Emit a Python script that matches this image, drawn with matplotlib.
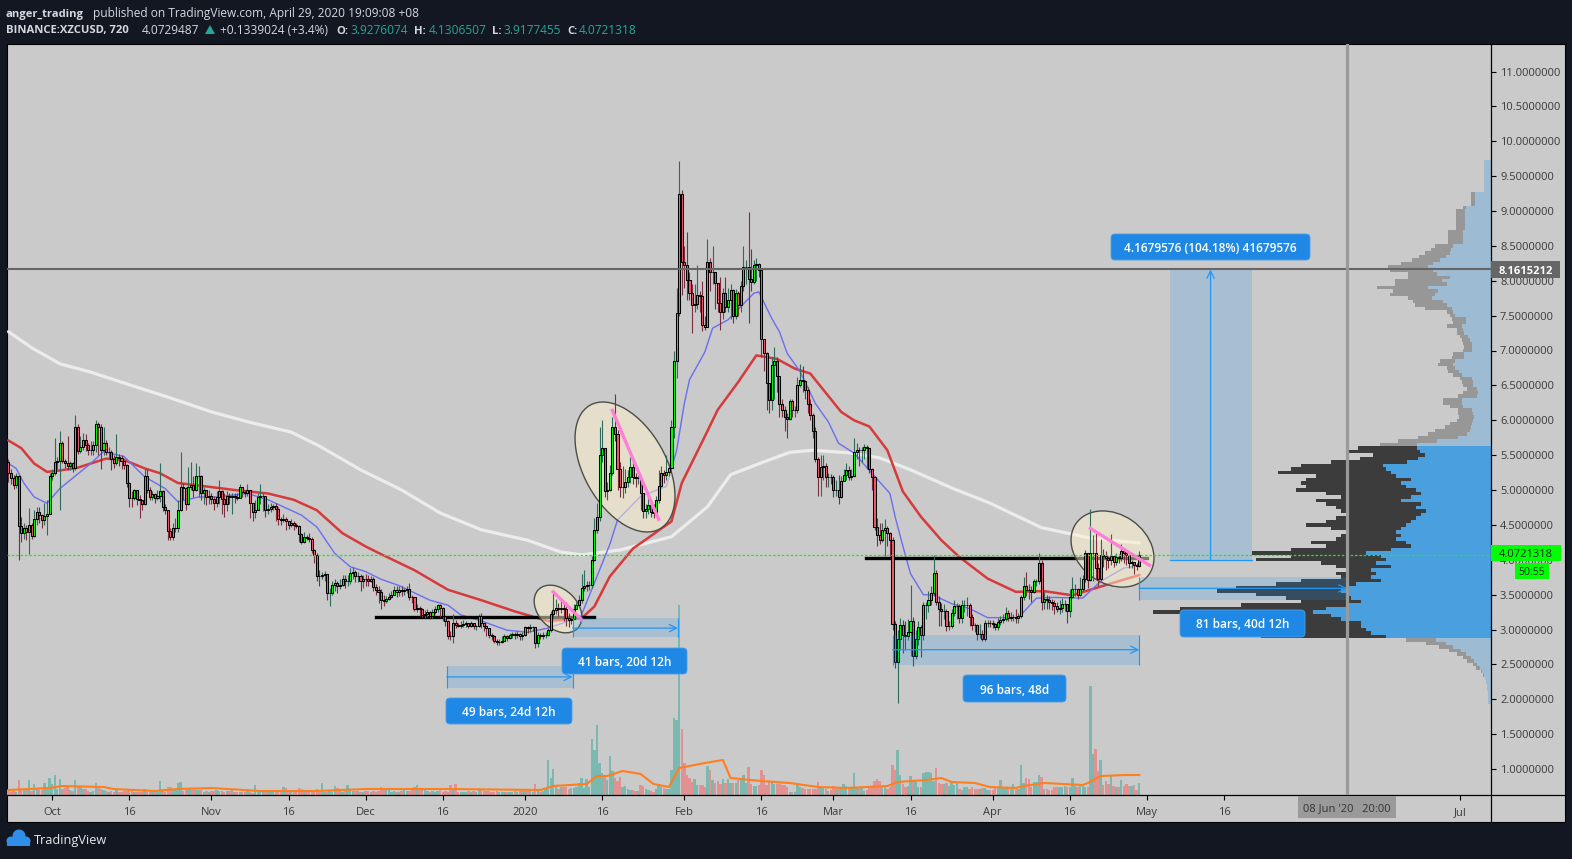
#!/usr/bin/env python
import numpy as np
import matplotlib
matplotlib.use('Agg')
import matplotlib.pyplot as plt
from matplotlib.patches import Ellipse, Rectangle, FancyBboxPatch, Polygon, Circle
from matplotlib.transforms import Affine2D

plt.rcParams['font.family'] = ['Open Sans', 'DejaVu Sans']

W, H = 1572, 859
first_day = -100.5  # days from 1 Jan 2020, 12h bars
first_open = 5.40

close = [
 5.24,5.17,5.07,5.20,4.48,4.38,4.46,4.40,4.50,4.34,4.59,4.69,4.64,4.57,4.63,4.65,5.20,5.24,5.40,5.41,
 5.68,5.42,5.39,5.35,5.38,5.31,5.90,5.56,5.62,5.71,5.64,5.57,5.58,5.64,5.95,5.90,5.58,5.68,5.55,5.55,
 5.45,5.38,5.47,5.46,5.42,5.36,5.10,4.89,4.88,5.00,4.87,4.85,4.80,5.20,5.00,4.90,4.94,4.89,4.91,4.99,
 4.76,4.72,4.41,4.32,4.45,4.46,4.72,5.04,5.03,4.80,5.04,5.07,5.00,5.20,5.20,4.96,5.00,4.90,4.91,4.87,
 4.82,4.90,4.98,4.87,4.80,4.92,4.90,4.92,4.90,4.89,5.04,4.97,4.96,5.00,4.81,4.69,4.72,4.90,4.92,4.92,
 4.71,4.73,4.75,4.77,4.73,4.59,4.57,4.59,4.55,4.50,4.53,4.50,4.49,4.37,4.25,4.33,4.31,4.30,4.14,4.07,
 3.77,3.76,3.78,3.80,3.53,3.53,3.64,3.66,3.63,3.64,3.72,3.69,3.69,3.81,3.83,3.76,3.76,3.70,3.73,3.72,
 3.70,3.73,3.61,3.56,3.54,3.42,3.41,3.44,3.46,3.50,3.57,3.54,3.57,3.55,3.56,3.58,3.47,3.46,3.30,3.31,
 3.30,3.21,3.22,3.25,3.19,3.25,3.30,3.35,3.31,3.19,3.12,2.91,2.90,3.10,3.06,3.05,3.06,3.08,3.09,3.05,
 3.09,3.05,3.05,3.19,3.10,3.05,3.02,2.92,2.90,2.83,2.82,2.82,2.84,2.90,2.88,2.92,2.93,2.92,2.94,2.91,
 2.92,3.03,3.02,3.03,3.03,2.80,2.92,2.91,2.92,2.92,2.99,3.22,3.28,3.31,3.30,3.31,3.30,3.16,3.14,3.15,
 3.30,3.35,3.42,3.60,3.63,3.64,3.64,4.00,4.43,4.62,5.50,5.60,4.99,5.00,5.24,5.91,5.81,5.30,5.05,5.05,
 5.11,5.18,5.33,5.19,5.17,5.17,4.95,4.70,4.73,4.78,4.69,4.67,4.86,5.06,5.24,5.21,5.26,5.32,5.90,6.85,
 7.54,9.24,8.27,8.22,8.01,7.83,7.65,7.66,7.80,7.78,7.37,7.34,8.27,8.12,8.12,7.97,7.68,7.55,7.83,7.62,
 7.72,7.87,7.50,7.82,7.65,7.92,8.20,8.20,8.03,7.98,8.23,8.24,8.15,7.17,6.96,6.53,6.29,6.79,6.85,6.63,
 6.24,6.14,6.05,6.02,6.28,6.14,6.14,6.51,6.57,6.56,6.44,6.23,6.07,5.84,5.44,5.18,5.33,5.34,5.18,5.19,
 5.18,5.00,5.00,4.90,5.13,5.21,5.29,5.18,5.20,5.55,5.58,5.57,5.58,5.61,5.60,5.30,5.18,4.47,4.35,4.29,
 4.43,4.46,4.38,4.28,3.08,2.54,2.87,3.07,2.92,2.90,2.97,3.12,2.62,2.87,3.03,2.92,3.35,3.35,3.42,3.53,
 3.81,3.40,3.30,3.27,3.27,3.05,3.05,3.23,3.33,3.33,3.16,3.35,3.35,3.35,3.18,3.07,3.06,2.94,2.94,2.86,
 3.09,3.10,3.09,3.08,3.04,3.11,3.13,3.15,3.23,3.16,3.18,3.18,3.17,3.19,3.47,3.63,3.57,3.56,3.54,3.69,
 3.70,3.96,3.40,3.44,3.43,3.40,3.38,3.33,3.30,3.31,3.37,3.37,3.27,3.46,3.58,3.58,3.50,3.58,3.72,4.09,
 3.71,4.09,4.09,3.88,3.73,4.07,4.06,4.02,3.99,4.05,3.97,4.04,4.03,4.13,4.09,4.07,3.96,3.97,3.92,3.91,4.07]

high = [
 5.45,5.30,5.22,5.25,5.22,4.62,4.52,4.50,4.74,4.52,4.72,4.75,4.75,4.65,4.82,4.85,5.25,5.30,5.75,5.48,
 5.85,5.70,5.45,5.78,5.42,5.40,6.08,5.95,5.78,5.82,5.80,5.68,5.70,5.70,6.00,5.98,5.95,5.90,5.72,5.62,
 5.58,5.50,5.81,5.52,5.50,5.42,5.37,5.12,4.98,5.02,5.00,4.93,4.85,5.30,5.30,5.05,4.98,4.95,5.00,5.38,
 5.00,4.80,4.72,4.45,4.52,4.60,4.85,5.55,5.10,5.05,5.33,5.40,5.20,5.38,5.34,5.22,5.05,4.95,5.00,4.95,
 4.92,4.98,5.14,5.00,4.95,4.98,4.96,4.96,4.95,4.95,5.08,5.05,5.00,5.08,4.92,4.81,4.85,4.95,5.08,4.96,
 4.85,4.80,4.82,4.80,4.82,4.75,4.62,4.66,4.62,4.55,4.58,4.56,4.52,4.50,4.38,4.40,4.36,4.38,4.32,4.16,
 4.10,3.85,3.82,3.84,3.80,3.60,3.70,3.72,3.70,3.72,3.78,3.78,3.78,3.88,3.90,3.85,3.82,3.80,3.78,3.80,
 3.78,3.76,3.75,3.65,3.62,3.58,3.50,3.48,3.52,3.55,3.62,3.62,3.62,3.62,3.60,3.62,3.66,3.50,3.46,3.36,
 3.34,3.31,3.28,3.30,3.26,3.30,3.34,3.36,3.37,3.32,3.18,3.14,2.98,3.22,3.14,3.09,3.12,3.14,3.12,3.10,
 3.12,3.10,3.07,3.22,3.24,3.10,3.06,3.00,2.95,2.92,2.86,2.87,2.90,2.93,2.92,2.95,2.97,2.96,2.98,2.95,
 2.97,3.05,3.05,3.08,3.05,3.04,2.96,2.95,2.96,2.96,3.02,3.26,3.52,3.44,3.38,3.42,3.36,3.40,3.24,3.20,
 3.36,3.40,3.50,3.80,3.86,3.70,3.70,4.05,4.60,4.82,5.90,6.00,5.60,5.12,5.36,6.05,6.38,5.86,5.40,5.34,
 5.30,5.28,5.48,5.40,5.25,5.22,5.12,4.96,4.80,4.88,4.86,4.80,4.92,5.28,5.35,5.28,5.50,5.36,6.00,7.00,
 7.90,9.72,9.30,8.50,8.70,8.12,7.95,7.95,8.22,7.85,8.00,7.50,8.60,8.32,8.50,8.05,7.85,8.05,7.90,8.06,
 7.90,7.95,7.88,7.88,7.85,8.00,8.50,8.30,8.99,8.45,8.30,8.32,8.25,8.18,7.08,6.98,6.50,6.90,7.05,6.90,
 6.62,6.30,6.20,6.10,6.30,6.30,6.20,6.62,6.80,6.78,6.58,6.48,6.30,6.10,5.90,5.48,5.50,5.50,5.38,5.25,
 5.23,5.22,5.14,5.22,5.20,5.30,5.38,5.35,5.30,5.75,5.68,5.62,5.62,5.66,5.65,5.52,5.32,5.20,4.60,4.52,
 4.52,4.58,4.48,4.40,4.33,3.12,3.00,3.16,3.14,3.12,3.15,3.64,3.18,3.00,3.12,3.06,3.40,3.40,3.55,3.62,
 4.07,3.85,3.48,3.38,3.36,3.30,3.12,3.30,3.42,3.38,3.36,3.42,3.42,3.47,3.38,3.22,3.10,3.08,3.08,3.00,
 3.13,3.14,3.13,3.13,3.10,3.16,3.20,3.22,3.32,3.28,3.25,3.22,3.30,3.23,3.50,3.75,3.82,3.65,3.62,3.72,
 3.73,4.10,4.00,3.55,3.50,3.48,3.44,3.42,3.40,3.42,3.45,3.42,3.35,3.58,3.75,3.65,3.60,3.75,3.78,4.14,
 4.10,4.73,4.35,4.38,3.95,4.30,4.15,4.12,4.06,4.37,4.03,4.10,4.08,4.22,4.14,4.12,4.06,4.00,3.96,3.96,4.13]

low = [
 5.12,5.08,5.02,5.03,3.99,4.25,4.30,4.28,4.08,4.30,4.33,4.50,4.52,4.46,4.50,4.35,4.65,5.15,5.22,5.30,
 4.71,5.38,5.32,5.28,5.28,5.26,5.28,5.52,5.53,5.58,5.56,5.50,5.50,5.50,5.55,5.50,5.30,5.50,5.50,5.45,
 5.28,5.32,5.36,5.34,5.30,5.30,5.05,4.75,4.76,4.85,4.78,4.60,4.72,4.78,4.95,4.85,4.85,4.82,4.85,4.83,
 4.70,4.65,4.28,4.28,4.28,4.40,4.40,4.70,4.85,4.72,4.78,5.00,4.90,4.98,4.90,4.85,4.80,4.78,4.80,4.80,
 4.72,4.76,4.80,4.65,4.62,4.70,4.80,4.65,4.82,4.85,4.88,4.90,4.90,4.92,4.60,4.55,4.60,4.72,4.80,4.70,
 4.62,4.66,4.68,4.72,4.55,4.50,4.50,4.54,4.42,4.44,4.47,4.42,4.46,4.25,4.22,4.24,4.28,4.25,4.10,3.95,
 3.70,3.62,3.72,3.70,3.43,3.33,3.50,3.55,3.52,3.58,3.62,3.60,3.62,3.65,3.72,3.68,3.68,3.55,3.60,3.62,
 3.62,3.68,3.55,3.50,3.38,3.30,3.33,3.38,3.42,3.45,3.50,3.46,3.48,3.48,3.50,3.52,3.42,3.38,3.26,3.25,
 3.20,3.18,3.16,3.18,3.15,3.17,3.22,3.25,3.18,3.12,3.05,2.86,2.85,2.80,3.02,3.03,3.02,3.04,3.04,3.02,
 3.04,3.01,3.00,3.04,3.02,2.98,2.90,2.88,2.85,2.80,2.78,2.78,2.80,2.84,2.84,2.86,2.88,2.87,2.88,2.85,
 2.85,2.90,2.95,2.97,2.98,2.74,2.75,2.86,2.86,2.88,2.90,2.97,3.15,3.22,3.20,3.24,3.12,3.05,3.04,3.08,
 3.20,3.30,3.32,3.38,3.55,3.55,3.56,3.60,3.98,4.38,4.55,5.40,4.90,4.85,4.98,5.22,5.70,5.00,4.90,4.88,
 4.95,5.05,5.10,5.08,5.05,5.08,4.72,4.60,4.60,4.66,4.62,4.60,4.65,4.82,5.05,5.10,5.15,5.20,5.30,5.75,
 6.60,7.50,7.80,7.90,7.72,7.72,7.25,7.55,7.60,7.55,7.28,7.30,7.35,7.85,7.95,7.60,7.55,7.30,7.45,7.55,
 7.55,7.45,7.40,7.45,7.50,7.55,7.85,7.95,7.40,7.85,7.95,8.00,8.05,6.90,6.70,6.15,6.10,6.15,6.30,6.40,
 6.05,6.05,5.85,5.75,6.00,6.05,6.05,6.10,6.48,6.40,6.30,6.10,6.00,5.75,5.40,4.92,4.92,5.15,5.05,5.05,
 5.08,4.90,4.92,4.80,4.88,5.14,5.15,5.15,5.14,5.18,5.45,5.35,5.40,5.45,5.30,5.25,5.00,4.42,4.20,4.22,
 4.25,4.05,4.20,4.05,3.00,2.45,1.94,2.72,2.66,2.70,2.85,2.62,2.48,2.58,2.78,2.60,2.85,3.15,3.25,3.35,
 3.50,3.35,3.05,3.05,3.15,2.98,3.00,3.02,3.20,3.15,3.10,3.10,3.25,3.20,3.05,3.00,2.96,2.85,2.88,2.83,
 2.84,3.04,3.03,3.02,2.99,3.00,3.06,3.09,3.12,3.12,3.12,3.12,3.10,3.10,3.17,3.42,3.48,3.44,3.40,3.52,
 3.62,3.65,3.28,3.30,3.30,3.30,3.28,3.22,3.25,3.22,3.25,3.27,3.10,3.18,3.45,3.48,3.44,3.48,3.55,3.68,
 3.60,3.70,3.70,3.72,3.62,3.70,3.90,3.85,3.88,3.92,3.90,3.92,3.95,3.98,3.95,3.92,3.88,3.88,3.80,3.85,3.90]

volume = [
 5,3,4,3,15,5,5,6,15,4,11,6,5,5,12,6,17,11,20,6,
 16,6,7,8,5,4,15,9,8,6,6,4,3,4,12,7,6,5,4,3,
 4,3,6,3,3,4,4,6,4,3,3,3,3,6,3,3,4,3,3,14,
 6,3,8,8,5,5,12,13,4,5,7,5,5,5,5,5,3,4,3,4,
 4,5,4,4,3,4,4,6,3,3,3,3,3,4,3,2,10,4,3,4,
 3,3,4,5,3,4,3,8,7,3,4,3,3,7,6,4,3,3,3,3,
 6,5,12,3,3,4,3,9,7,4,3,4,10,6,4,4,4,3,3,4,
 4,3,4,3,4,8,5,7,6,3,4,3,3,4,5,4,4,6,8,10,
 5,6,5,4,3,4,3,4,5,3,4,3,10,7,11,3,3,3,3,4,
 3,4,3,7,5,4,4,4,3,3,4,3,3,3,3,3,3,4,3,4,
 4,4,4,4,3,11,4,3,4,7,35,17,26,8,6,8,8,8,6,7,
 7,8,12,17,7,16,8,56,45,70,32,22,18,15,39,24,17,14,18,8,
 9,6,5,5,4,4,10,9,6,5,4,3,6,11,8,7,6,6,25,77,
 75,190,66,32,20,17,13,16,10,10,10,8,29,25,15,12,14,11,16,12,
 16,12,12,12,15,15,20,12,28,11,9,9,10,25,20,10,13,13,11,11,
 11,10,10,8,3,3,3,10,8,7,6,6,6,6,6,13,8,7,6,4,
 5,9,6,8,8,11,9,8,8,22,8,8,8,4,5,8,8,14,16,14,
 8,8,6,8,30,25,45,20,11,8,9,19,13,13,8,8,22,23,23,22,
 14,27,12,11,11,12,9,14,10,12,6,5,8,8,6,8,6,6,6,7,
 7,5,5,5,7,8,15,8,8,8,8,11,6,6,30,12,17,16,8,13,
 13,20,18,6,6,5,5,8,8,8,8,9,8,8,17,9,8,9,9,8,
 8,109,41,46,24,35,10,14,11,19,9,8,8,15,9,11,9,9,10,5,12]

# moving averages, read at these bar numbers
ma200_bar = [0,9,20,32,47,63,79,94,110,121,137,153,168,184,202,215,223,238,258,272,281,293,304,313,328,339,351,367,382,402,421,440]
ma200 = [7.27,7.04,6.81,6.69,6.51,6.32,6.12,5.97,5.83,5.63,5.29,5.00,4.67,4.43,4.28,4.11,4.07,4.14,4.33,4.76,5.22,5.39,5.54,5.57,5.53,5.46,5.29,5.03,4.81,4.46,4.31,4.24]
ma50_bar = [0,5,10,15,20,27,32,38,45,53,59,66,75,88,101,111,120,130,139,145,158,171,184,197,210,223,228,234,243,258,262,271,276,284,291,299,306,312,324,329,335,342,348,355,363,370,381,392,403,414,421,429,440]
ma50 = [5.71,5.60,5.38,5.26,5.28,5.32,5.38,5.45,5.43,5.31,5.24,5.10,5.06,5.00,4.95,4.86,4.71,4.38,4.19,4.08,3.85,3.57,3.42,3.26,3.12,3.16,3.33,3.76,4.16,4.55,5.10,5.77,6.15,6.55,6.93,6.88,6.74,6.67,6.12,6.00,5.91,5.57,4.98,4.62,4.28,4.04,3.73,3.54,3.55,3.49,3.57,3.66,3.78]
ma20_bar = [0,3,6,10,15,20,25,32,37,45,53,61,66,74,81,93,101,114,120,127,133,139,145,152,164,171,176,185,194,202,210,217,223,229,234,237,246,256,260,263,265,271,274,280,290,292,297,300,303,308,314,319,323,329,343,345,348,351,356,360,367,374,381,393,400,407,418,425,434,440]
ma20 = [5.38,5.31,5.10,4.90,4.81,5.02,5.17,5.38,5.55,5.48,5.19,5.02,4.83,4.90,4.90,4.95,4.86,4.64,4.47,4.09,3.90,3.83,3.72,3.63,3.42,3.35,3.21,3.11,2.99,2.96,3.02,3.11,3.21,3.76,4.22,4.57,4.91,5.05,5.57,6.24,6.58,6.98,7.32,7.44,7.82,7.84,7.46,7.27,6.96,6.70,6.24,5.98,5.67,5.53,4.95,4.62,4.20,3.80,3.50,3.49,3.37,3.30,3.17,3.17,3.45,3.46,3.45,3.69,3.88,3.92]
vol_ma_bar = [0,16,21,37,41,57,66,79,98,120,139,172,207,212,225,229,233,239,246,251,257,261,271,278,281,293,304,315,326,342,346,357,363,367,376,382,392,395,403,418,420,425,435,440]
vol_ma = [5,7,9,8,6,4,6,7,4,4,6,6,5,9,11,19,19,24,21,11,8,27,32,35,17,14,12,8,7,9,13,15,17,13,12,8,7,9,12,10,12,19,20,20]

# fixed range volume profile: one row per price, width of up part and whole row
vp_price = [9.70,9.65,9.60,9.55,9.50,9.45,9.40,9.35,9.30,9.25,9.20,9.15,9.10,9.05,9.00,8.95,8.90,8.85,8.80,8.75,
 8.70,8.65,8.60,8.55,8.50,8.45,8.40,8.35,8.30,8.25,8.20,8.15,8.10,8.05,8.00,7.95,7.90,7.85,7.80,7.75,
 7.70,7.65,7.60,7.55,7.50,7.45,7.40,7.35,7.30,7.25,7.20,7.15,7.10,7.05,7.00,6.95,6.90,6.85,6.80,6.75,
 6.70,6.65,6.60,6.55,6.50,6.45,6.40,6.35,6.30,6.25,6.20,6.15,6.10,6.05,6.00,5.95,5.90,5.85,5.80,5.75,
 5.70,5.65,5.60,5.55,5.50,5.45,5.40,5.35,5.30,5.25,5.20,5.15,5.10,5.05,5.00,4.95,4.90,4.85,4.80,4.75,
 4.70,4.65,4.60,4.55,4.50,4.45,4.40,4.35,4.30,4.25,4.20,4.15,4.10,4.05,4.00,3.95,3.90,3.85,3.80,3.75,
 3.70,3.65,3.60,3.55,3.50,3.45,3.40,3.35,3.30,3.25,3.20,3.15,3.10,3.05,3.00,2.95,2.90,2.85,2.80,2.75,
 2.70,2.65,2.60,2.55,2.50,2.45,2.40,2.35,2.30,2.25,2.20,2.15,2.10,2.05,2.00,1.95]
vp_up = [7,7,7,7,7,7,7,7,7,16,16,16,16,25,26,26,26,26,26,26,
 28,28,28,28,38,40,41,45,51,58,63,58,54,41,49,44,63,53,56,59,
 48,44,39,38,36,25,25,29,28,27,23,21,19,19,19,27,27,36,38,36,
 32,29,19,18,18,14,13,14,29,29,28,19,18,17,18,19,20,21,24,33,
 54,74,74,71,66,73,84,108,105,100,95,80,90,85,75,70,80,90,70,75,
 65,70,75,80,85,90,95,90,95,85,80,100,125,110,105,115,100,120,115,120,
 110,135,145,150,145,140,130,145,165,178,160,150,130,130,125,120,105,55,45,38,
 30,25,20,17,14,11,9,7,6,5,4,4,3,3,3,3]
vp_total = [7,7,7,7,7,7,7,7,7,20,20,20,20,28,35,35,35,35,35,35,
 43,43,43,43,56,60,66,72,79,90,103,101,83,83,96,96,114,98,101,83,
 78,76,66,44,41,39,38,44,34,34,31,29,28,27,28,38,39,51,53,44,
 43,38,31,29,28,24,28,33,48,48,41,33,33,32,34,41,46,56,63,73,
 93,111,133,143,118,131,160,190,200,213,175,185,190,185,195,165,150,175,165,155,
 150,145,155,165,185,160,145,150,155,180,165,200,239,200,235,170,155,145,155,150,
 190,215,255,274,235,205,190,250,311,338,290,250,220,250,250,240,230,85,65,52,
 42,34,28,24,18,15,10,8,6,5,4,4,3,3,3,3]

price_ticks = [1.0,1.5,2.0,2.5,3.0,3.5,4.0,4.5,5.0,5.5,6.0,6.5,7.0,7.5,8.0,8.5,9.0,9.5,10.0,10.5,11.0]
time_ticks = [-92,-77,-61,-46,-31,-16,0,15,31,46,60,75,91,106,121,136,159.83,182]
time_labels = ['Oct','16','Nov','16','Dec','16','2020','16','Feb','16','Mar','16','Apr','16','May','16','','Jul']

BG = '#cacaca'
DARK = '#131722'
BLUE = '#2196f3'
LABEL = '#1f88e5'
TXT = '#3a3a3a'

def bar_day(i):
    return first_day + 0.5 * np.asarray(i, dtype=float)

# y-down pixel coordinates, for the drawn-on tools and labels
pix = Affine2D().scale(1, -1).translate(0, H)

fig = plt.figure(figsize=(W / 100, H / 100), dpi=100, facecolor=DARK)
fig.add_artist(Rectangle((7, 44), 1558, 778, facecolor=BG, edgecolor='black', lw=0.8, transform=pix, zorder=-5))

pos = [7 / W, 1 - 795 / H, (1491 - 7) / W, (795 - 44) / H]
ymin, ymax = 1 - 26 / 69.75, 1 + 725 / 69.75
xmin, xmax = (7 - 525) / 5.14, (1491 - 525) / 5.14

# volume profile at the back
ax_vp = fig.add_axes(pos, zorder=1, frameon=False)
ax_vp.set_xlim(1484, 0)
ax_vp.set_ylim(ymin, ymax)
ax_vp.axis('off')
vp_p = np.array(vp_price)
vp_u = np.array(vp_up)
vp_t = np.array(vp_total)
inside = (vp_p <= 5.6) & (vp_p >= 2.9)
ax_vp.barh(vp_p, vp_u, height=0.05, color=np.where(inside, '#4aa0de', '#9dbbd2').tolist(), linewidth=0)
ax_vp.barh(vp_p, vp_t - vp_u, left=vp_u, height=0.05, color=np.where(inside, '#3c3c3c', '#979797').tolist(), linewidth=0)

# volume
days = bar_day(np.arange(len(close)))
opens = np.array([first_open] + close[:-1])
closes = np.array(close)
up = closes >= opens

ax_vol = fig.add_axes(pos, zorder=2, frameon=False)
ax_vol.set_xlim(xmin, xmax)
ax_vol.set_ylim(0, 751)
ax_vol.axis('off')
ax_vol.bar(days, volume, width=0.46, color=np.where(up, '#7ab8b0', '#e09292').tolist(), linewidth=0)
ax_vol.plot(bar_day(vol_ma_bar), vol_ma, color='#ff7f1e', lw=1.5, solid_joinstyle='round')

# price pane
ax = fig.add_axes(pos, zorder=3)
ax.patch.set_visible(False)
ax.set_xlim(xmin, xmax)
ax.set_ylim(ymin, ymax)
for s in ['left', 'top']:
    ax.spines[s].set_visible(False)
for s in ['right', 'bottom']:
    ax.spines[s].set_linewidth(0.9)
ax.yaxis.tick_right()
ax.set_yticks(price_ticks)
ax.set_yticklabels([f'{p:.7f}' for p in price_ticks])
ax.set_xticks(time_ticks)
ax.set_xticklabels(time_labels)
ax.tick_params(axis='y', length=3.5, width=0.8, pad=3, labelsize=8, labelcolor=TXT)
ax.tick_params(axis='x', length=3.5, width=0.8, pad=5, labelsize=8, labelcolor=TXT)

ax.plot(bar_day(ma200_bar), ma200, color='#ececec', lw=2.3, zorder=2, solid_capstyle='round', solid_joinstyle='round')
ax.plot(bar_day(ma50_bar), ma50, color='#d63a3a', lw=1.8, zorder=2, solid_joinstyle='round')
ax.plot(bar_day(ma20_bar), ma20, color='#6a6ef0', lw=1.0, zorder=2, solid_joinstyle='round')

# horizontal levels, under the ellipses
ax.plot(bar_day([143, 228]), [3.175, 3.175], color='black', lw=2.4, zorder=2.5)
ax.plot(bar_day([333.5, 443]), [4.03, 4.03], color='black', lw=2.4, zorder=2.5)

# ellipses
for cx, cy, w, h, a in [(625, 467, 142, 82, 60.5), (558, 609, 55, 39, 45), (1112.5, 549, 89, 69, 35)]:
    ax.add_patch(Ellipse((cx, cy), w, h, angle=a, transform=pix, facecolor=(1, 0.95, 0.8, 0.5),
                         edgecolor='#4d4d48', lw=1.0, zorder=3))

# candles
wick_cols = np.where(up, '#2e6b5a', '#7a2f3f').tolist()
ax.vlines(days, low, high, colors=wick_cols, lw=0.8, zorder=4)
ax.bar(days, closes - opens, bottom=opens, width=0.4, color=np.where(up, '#00ff00', '#f0596b').tolist(),
       edgecolor='black', linewidth=0.75, zorder=5)

# pink trend lines
ax.plot(bar_day([235, 253]), [6.14, 4.58], color='#ff7fd8', lw=2.4, zorder=6)
ax.plot(bar_day([212, 223]), [3.54, 3.14], color='#ff7fd8', lw=2.4, zorder=6)
ax.plot(bar_day([421, 444]), [4.45, 3.92], color='#ff7fd8', lw=2.4, zorder=6)

# bar range boxes
for b0, b1, top, bot, mid in [(170.5, 219.5, 2.48, 2.16, 2.32), (219.5, 260.5, 3.16, 2.89, 3.02),
                              (344, 440, 2.92, 2.49, 2.71), (440, 521, 3.75, 3.42, 3.59)]:
    x0, x1 = bar_day([b0, b1])
    ax.fill_between([x0, x1], bot, top, color=BLUE, alpha=0.2, lw=0, zorder=6)
    ax.vlines([x0, x1], bot, top, color=BLUE, lw=0.8, zorder=6)
    ax.annotate('', xy=(x1, mid), xytext=(x0, mid),
                arrowprops=dict(arrowstyle='->', color=BLUE, lw=0.9, shrinkA=0, shrinkB=0, mutation_scale=13), zorder=6)

# price range box
x0, x1 = bar_day([451.8, 483.7])
ax.fill_between([x0, x1], 4.0, 8.16, color=BLUE, alpha=0.2, lw=0, zorder=6)
ax.plot([x0, x1], [4.0, 4.0], color=BLUE, lw=0.9, zorder=6)
ax.annotate('', xy=((x0 + x1) / 2, 8.16), xytext=((x0 + x1) / 2, 4.0),
            arrowprops=dict(arrowstyle='->', color=BLUE, lw=0.9, shrinkA=0, shrinkB=0, mutation_scale=13), zorder=6)

# last price and crosshair
ax.axhline(4.0721318, color='#00ff00', lw=0.9, dashes=(2, 1.5), zorder=7)
ax.axhline(8.1615212, color='#666666', lw=1.5, zorder=7)
ax.axvline(159.83, color='#9a9a9a', lw=2.3, zorder=7)

def label(x0, y0, x1, y1, text):
    fig.add_artist(FancyBboxPatch((x0, y0), x1 - x0, y1 - y0, boxstyle='round,pad=0,rounding_size=4',
                                  facecolor=LABEL, edgecolor='#4a9fe8', lw=0.6, transform=pix, zorder=10))
    fig.text((x0 + x1) / 2, (y0 + y1) / 2, text, transform=pix, color='white', fontsize=8.6,
             fontweight='semibold', ha='center', va='center_baseline', zorder=11)

label(446, 698, 572, 724, '49 bars, 24d 12h')
label(562, 648, 687, 674, '41 bars, 20d 12h')
label(963, 675, 1066, 702, '96 bars, 48d')
label(1180, 610, 1305, 637, '81 bars, 40d 12h')
label(1111, 234, 1310, 260, '4.1679576 (104.18%) 41679576')

def box(x0, y0, x1, y1, color, text, tcolor, bold=False, size=8):
    fig.add_artist(Rectangle((x0, y0), x1 - x0, y1 - y0, facecolor=color, edgecolor='none', transform=pix, zorder=10))
    fig.text((x0 + x1) / 2, (y0 + y1) / 2, text, transform=pix, color=tcolor, fontsize=size,
             fontweight='bold' if bold else 'normal', ha='center', va='center_baseline', zorder=11)

box(1491, 261, 1560, 278, '#666666', '8.1615212', 'white', True)
box(1491, 545, 1561, 561, '#00ff00', '4.0721318', '#222222')
box(1515, 563, 1549, 579, '#00ff00', '50:55', '#222222', size=7.6)
box(1298, 796, 1396, 818, '#9a9a9a', "08 Jun '20   20:00", '#333333')

# axis line below the pane
fig.add_artist(plt.Line2D([1491, 1491], [795, 822], color='black', lw=0.9, transform=pix, zorder=9))
fig.add_artist(plt.Line2D([1491, 1565], [795, 795], color='black', lw=0.9, transform=pix, zorder=9))

# header
HEAD = '#d6d8de'
TEAL = '#26a69a'
def head(x, y, s, color=HEAD, bold=False):
    fig.text(x, y, s, transform=pix, color=color, fontsize=8.1 if bold else 8.6,
             fontweight='bold' if bold else 'normal', ha='left', va='center_baseline')

head(6, 12.5, 'anger_trading', bold=True)
head(93, 12.5, 'published on TradingView.com, April 29, 2020 19:09:08 +08')
head(6, 29.5, 'BINANCE:XZCUSD, 720', bold=True)
head(142, 29.5, '4.0729487')
fig.add_artist(Polygon([(205, 34), (215, 34), (210, 25)], facecolor=TEAL, transform=pix))
head(220, 29.5, '+0.1339024 (+3.4%)')
for x_k, k, x_v, v in [(336, 'O:', 350, '3.9276074'), (414, 'H:', 429, '4.1306507'),
                       (492, 'L:', 503, '3.9177455'), (567, 'C:', 579, '4.0721318')]:
    head(x_k, 29.5, k, bold=True)
    head(x_v, 29.5, v, color=TEAL)

# footer logo
for cx, cy, r in [(11, 841, 4.5), (19, 836, 6.5), (26, 841, 4.5)]:
    fig.add_artist(Circle((cx, cy), r, facecolor='#2f8fe8', edgecolor='none', transform=pix))
fig.add_artist(Rectangle((7, 841), 23, 4.5, facecolor='#2f8fe8', edgecolor='none', transform=pix))
fig.text(34, 839, 'TradingView', transform=pix, color='#e6e8ec', fontsize=9.2, ha='left', va='center_baseline')

fig.savefig('out.png', dpi=100, facecolor=DARK)
